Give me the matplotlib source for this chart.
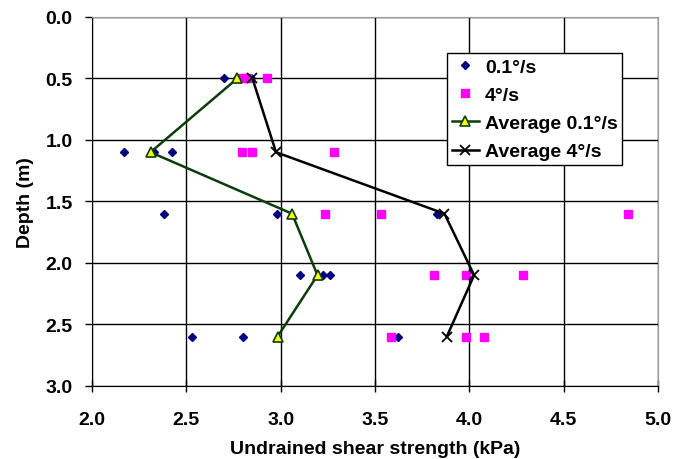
import matplotlib
matplotlib.use("Agg")
import matplotlib.pyplot as plt
from matplotlib.ticker import MultipleLocator

plt.rcParams['font.family'] = ['Liberation Sans', 'DejaVu Sans']
plt.rcParams['font.weight'] = 'bold'

# Individual vane test results, shear strength (kPa) at each depth (m)
slow_depth = [0.5, 0.5, 0.5, 1.1, 1.1, 1.1, 1.6, 1.6, 1.6, 2.1, 2.1, 2.1, 2.6, 2.6, 2.6]
slow_su = [2.70, 2.77, 2.84, 2.17, 2.33, 2.425, 2.38, 2.98, 3.83, 3.10, 3.225, 3.26, 2.53, 2.80, 3.62]

fast_depth = [0.5, 0.5, 0.5, 1.1, 1.1, 1.1, 1.6, 1.6, 1.6, 2.1, 2.1, 2.1, 2.6, 2.6, 2.6]
fast_su = [2.80, 2.82, 2.927, 2.795, 2.848, 3.28, 3.234, 3.53, 4.84, 3.81, 3.98, 4.285, 3.583, 3.98, 4.08]

# Averages per depth
avg_depth = [0.5, 1.1, 1.6, 2.1, 2.6]
avg_slow = [2.77, 2.31, 3.06, 3.195, 2.983]
avg_fast = [2.85, 2.975, 3.868, 4.025, 3.88]

fig = plt.figure(figsize=(6.77, 4.6), dpi=100)
ax = fig.add_axes([0.136, 0.159, 0.836, 0.802])

ax.plot(slow_su, slow_depth, linestyle='none', marker='D', markersize=4.5,
        color='#000080', label='0.1°/s', zorder=3)
ax.plot(fast_su, fast_depth, linestyle='none', marker='s', markersize=5.5,
        color='#FF00FF', label='4°/s', zorder=3)
ax.plot(avg_slow, avg_depth, color='#0B3D0B', linewidth=1.8, marker='^',
        markersize=7, markerfacecolor='#FFFF00', markeredgecolor='#0B3D0B',
        markeredgewidth=1.2, label='Average 0.1°/s', zorder=4)
ax.plot(avg_fast, avg_depth, color='black', linewidth=1.8, marker='x',
        markersize=6.5, markeredgewidth=1.3, label='Average 4°/s', zorder=4)

ax.set_xlim(2.0, 5.0)
ax.set_ylim(3.0, 0.0)
ax.xaxis.set_major_locator(MultipleLocator(0.5))
ax.yaxis.set_major_locator(MultipleLocator(0.5))
ax.xaxis.set_major_formatter(plt.FormatStrFormatter('%.1f'))
ax.yaxis.set_major_formatter(plt.FormatStrFormatter('%.1f'))
ax.grid(True, color='black', linewidth=1.0)
ax.set_axisbelow(True)

ax.tick_params(axis='x', direction='inout', length=8, width=1, labelsize=14, pad=14)
ax.tick_params(axis='y', direction='out', length=5, width=1, labelsize=14, pad=9)
for s in ['top', 'right']:
    ax.spines[s].set_color('#999999')
for s in ['left', 'bottom']:
    ax.spines[s].set_color('black')

ax.set_xlabel('Undrained shear strength (kPa)', fontsize=14, fontweight='bold', labelpad=9)
ax.set_ylabel('Depth (m)', fontsize=14, fontweight='bold', labelpad=8)

leg = ax.legend(loc='upper left', bbox_to_anchor=(0.627, 0.902), fontsize=14,
                frameon=True, fancybox=False, framealpha=1, edgecolor='black',
                handlelength=1.4, borderpad=0.25, labelspacing=0.55,
                handletextpad=0.3, borderaxespad=0)
leg.get_frame().set_linewidth(1.0)

fig.savefig('out.png', dpi=100)
